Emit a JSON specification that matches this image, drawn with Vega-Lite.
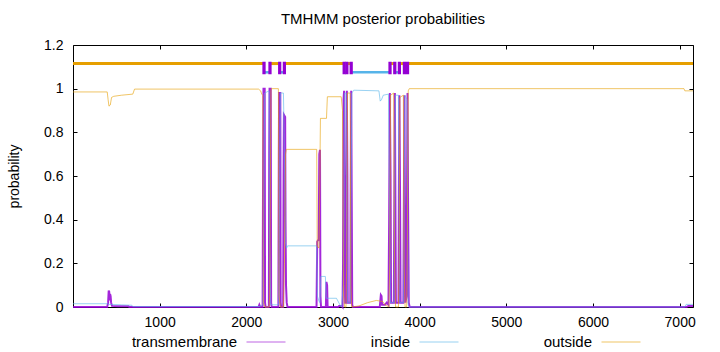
{
  "$schema": "https://vega.github.io/schema/vega-lite/v6.json",
  "width": 620,
  "height": 262,
  "autosize": {"type": "none"},
  "padding": {"left": 73, "top": 45, "right": 27, "bottom": 45},
  "background": "white",
  "title": {"text": "TMHMM posterior probabilities", "font": "Liberation Sans", "fontSize": 15, "fontWeight": "normal", "color": "black", "anchor": "middle", "offset": 11},
  "config": {
    "view": {"stroke": "black", "strokeWidth": 1},
    "axis": {"grid": false, "domain": false, "labelFont": "Liberation Sans", "labelFontSize": 14, "labelColor": "black", "tickColor": "black", "tickSize": -4, "tickWidth": 1, "titleFont": "Liberation Sans", "titleFontSize": 14, "titleFontWeight": "normal", "titleColor": "black"}
  },
  "datasets": {
    "posterior": [
      {"series": "transmembrane", "position": 0, "probability": 0},
      {"series": "transmembrane", "position": 395, "probability": 0},
      {"series": "transmembrane", "position": 405, "probability": 0.02},
      {"series": "transmembrane", "position": 412, "probability": 0.075},
      {"series": "transmembrane", "position": 418, "probability": 0.07},
      {"series": "transmembrane", "position": 422, "probability": 0.03},
      {"series": "transmembrane", "position": 428, "probability": 0.06},
      {"series": "transmembrane", "position": 434, "probability": 0.05},
      {"series": "transmembrane", "position": 440, "probability": 0.02},
      {"series": "transmembrane", "position": 450, "probability": 0.005},
      {"series": "transmembrane", "position": 520, "probability": 0.003},
      {"series": "transmembrane", "position": 640, "probability": 0.003},
      {"series": "transmembrane", "position": 650, "probability": 0},
      {"series": "transmembrane", "position": 2140, "probability": 0},
      {"series": "transmembrane", "position": 2150, "probability": 0.01},
      {"series": "transmembrane", "position": 2160, "probability": 0},
      {"series": "transmembrane", "position": 2188, "probability": 0},
      {"series": "transmembrane", "position": 2194, "probability": 0.7},
      {"series": "transmembrane", "position": 2198, "probability": 1},
      {"series": "transmembrane", "position": 2212, "probability": 1},
      {"series": "transmembrane", "position": 2216, "probability": 0.02},
      {"series": "transmembrane", "position": 2222, "probability": 0},
      {"series": "transmembrane", "position": 2260, "probability": 0},
      {"series": "transmembrane", "position": 2264, "probability": 0.7},
      {"series": "transmembrane", "position": 2268, "probability": 1},
      {"series": "transmembrane", "position": 2282, "probability": 1},
      {"series": "transmembrane", "position": 2286, "probability": 0.02},
      {"series": "transmembrane", "position": 2292, "probability": 0},
      {"series": "transmembrane", "position": 2370, "probability": 0},
      {"series": "transmembrane", "position": 2375, "probability": 0.7},
      {"series": "transmembrane", "position": 2378, "probability": 0.98},
      {"series": "transmembrane", "position": 2392, "probability": 0.98},
      {"series": "transmembrane", "position": 2396, "probability": 0.02},
      {"series": "transmembrane", "position": 2402, "probability": 0},
      {"series": "transmembrane", "position": 2425, "probability": 0},
      {"series": "transmembrane", "position": 2430, "probability": 0.6},
      {"series": "transmembrane", "position": 2434, "probability": 0.88},
      {"series": "transmembrane", "position": 2448, "probability": 0.87},
      {"series": "transmembrane", "position": 2452, "probability": 0.4},
      {"series": "transmembrane", "position": 2458, "probability": 0.1},
      {"series": "transmembrane", "position": 2466, "probability": 0.02},
      {"series": "transmembrane", "position": 2475, "probability": 0},
      {"series": "transmembrane", "position": 2810, "probability": 0},
      {"series": "transmembrane", "position": 2818, "probability": 0.3},
      {"series": "transmembrane", "position": 2835, "probability": 0.31},
      {"series": "transmembrane", "position": 2842, "probability": 0.7},
      {"series": "transmembrane", "position": 2850, "probability": 0.72},
      {"series": "transmembrane", "position": 2855, "probability": 0.05},
      {"series": "transmembrane", "position": 2862, "probability": 0},
      {"series": "transmembrane", "position": 2918, "probability": 0},
      {"series": "transmembrane", "position": 2924, "probability": 0.115},
      {"series": "transmembrane", "position": 2932, "probability": 0.1},
      {"series": "transmembrane", "position": 2938, "probability": 0},
      {"series": "transmembrane", "position": 3060, "probability": 0},
      {"series": "transmembrane", "position": 3070, "probability": 0.005},
      {"series": "transmembrane", "position": 3100, "probability": 0.005},
      {"series": "transmembrane", "position": 3110, "probability": 0},
      {"series": "transmembrane", "position": 3116, "probability": 0.2},
      {"series": "transmembrane", "position": 3122, "probability": 0.95},
      {"series": "transmembrane", "position": 3128, "probability": 0.99},
      {"series": "transmembrane", "position": 3134, "probability": 0.5},
      {"series": "transmembrane", "position": 3140, "probability": 0.02},
      {"series": "transmembrane", "position": 3150, "probability": 0.02},
      {"series": "transmembrane", "position": 3155, "probability": 0.5},
      {"series": "transmembrane", "position": 3160, "probability": 0.99},
      {"series": "transmembrane", "position": 3166, "probability": 0.6},
      {"series": "transmembrane", "position": 3170, "probability": 0.02},
      {"series": "transmembrane", "position": 3200, "probability": 0.02},
      {"series": "transmembrane", "position": 3204, "probability": 0.5},
      {"series": "transmembrane", "position": 3210, "probability": 0.99},
      {"series": "transmembrane", "position": 3216, "probability": 0.5},
      {"series": "transmembrane", "position": 3222, "probability": 0.01},
      {"series": "transmembrane", "position": 3230, "probability": 0},
      {"series": "transmembrane", "position": 3540, "probability": 0},
      {"series": "transmembrane", "position": 3552, "probability": 0.055},
      {"series": "transmembrane", "position": 3560, "probability": 0.05},
      {"series": "transmembrane", "position": 3566, "probability": 0.01},
      {"series": "transmembrane", "position": 3600, "probability": 0.01},
      {"series": "transmembrane", "position": 3620, "probability": 0.02},
      {"series": "transmembrane", "position": 3640, "probability": 0.01},
      {"series": "transmembrane", "position": 3648, "probability": 0.4},
      {"series": "transmembrane", "position": 3656, "probability": 0.98},
      {"series": "transmembrane", "position": 3664, "probability": 0.6},
      {"series": "transmembrane", "position": 3670, "probability": 0.02},
      {"series": "transmembrane", "position": 3702, "probability": 0.02},
      {"series": "transmembrane", "position": 3708, "probability": 0.5},
      {"series": "transmembrane", "position": 3714, "probability": 0.98},
      {"series": "transmembrane", "position": 3720, "probability": 0.5},
      {"series": "transmembrane", "position": 3726, "probability": 0.02},
      {"series": "transmembrane", "position": 3756, "probability": 0.02},
      {"series": "transmembrane", "position": 3760, "probability": 0.5},
      {"series": "transmembrane", "position": 3766, "probability": 0.97},
      {"series": "transmembrane", "position": 3774, "probability": 0.5},
      {"series": "transmembrane", "position": 3780, "probability": 0.02},
      {"series": "transmembrane", "position": 3812, "probability": 0.02},
      {"series": "transmembrane", "position": 3818, "probability": 0.5},
      {"series": "transmembrane", "position": 3824, "probability": 0.97},
      {"series": "transmembrane", "position": 3830, "probability": 0.5},
      {"series": "transmembrane", "position": 3836, "probability": 0.02},
      {"series": "transmembrane", "position": 3850, "probability": 0.05},
      {"series": "transmembrane", "position": 3855, "probability": 0.6},
      {"series": "transmembrane", "position": 3860, "probability": 0.98},
      {"series": "transmembrane", "position": 3866, "probability": 0.5},
      {"series": "transmembrane", "position": 3874, "probability": 0.02},
      {"series": "transmembrane", "position": 3885, "probability": 0},
      {"series": "transmembrane", "position": 7080, "probability": 0},
      {"series": "transmembrane", "position": 7100, "probability": 0.005},
      {"series": "transmembrane", "position": 7154, "probability": 0.005},

      {"series": "inside", "position": 0, "probability": 0.015},
      {"series": "inside", "position": 405, "probability": 0.015},
      {"series": "inside", "position": 410, "probability": 0.012},
      {"series": "inside", "position": 560, "probability": 0.01},
      {"series": "inside", "position": 680, "probability": 0.008},
      {"series": "inside", "position": 690, "probability": 0.002},
      {"series": "inside", "position": 2150, "probability": 0.002},
      {"series": "inside", "position": 2190, "probability": 0.01},
      {"series": "inside", "position": 2198, "probability": 0.3},
      {"series": "inside", "position": 2212, "probability": 0.98},
      {"series": "inside", "position": 2262, "probability": 0.99},
      {"series": "inside", "position": 2268, "probability": 0.3},
      {"series": "inside", "position": 2282, "probability": 0.01},
      {"series": "inside", "position": 2373, "probability": 0.01},
      {"series": "inside", "position": 2380, "probability": 0.3},
      {"series": "inside", "position": 2393, "probability": 0.98},
      {"series": "inside", "position": 2428, "probability": 0.98},
      {"series": "inside", "position": 2436, "probability": 0.8},
      {"series": "inside", "position": 2450, "probability": 0.3},
      {"series": "inside", "position": 2465, "probability": 0.27},
      {"series": "inside", "position": 2475, "probability": 0.28},
      {"series": "inside", "position": 2812, "probability": 0.28},
      {"series": "inside", "position": 2820, "probability": 0.05},
      {"series": "inside", "position": 2835, "probability": 0.03},
      {"series": "inside", "position": 2848, "probability": 0.02},
      {"series": "inside", "position": 2860, "probability": 0.14},
      {"series": "inside", "position": 2912, "probability": 0.14},
      {"series": "inside", "position": 2922, "probability": 0.04},
      {"series": "inside", "position": 3040, "probability": 0.04},
      {"series": "inside", "position": 3080, "probability": 0.01},
      {"series": "inside", "position": 3100, "probability": 0},
      {"series": "inside", "position": 3118, "probability": 0.1},
      {"series": "inside", "position": 3128, "probability": 0.5},
      {"series": "inside", "position": 3134, "probability": 0.98},
      {"series": "inside", "position": 3150, "probability": 0.98},
      {"series": "inside", "position": 3158, "probability": 0.4},
      {"series": "inside", "position": 3166, "probability": 0.02},
      {"series": "inside", "position": 3200, "probability": 0.02},
      {"series": "inside", "position": 3208, "probability": 0.5},
      {"series": "inside", "position": 3218, "probability": 0.98},
      {"series": "inside", "position": 3240, "probability": 0.993},
      {"series": "inside", "position": 3530, "probability": 0.99},
      {"series": "inside", "position": 3545, "probability": 0.943},
      {"series": "inside", "position": 3560, "probability": 0.95},
      {"series": "inside", "position": 3580, "probability": 0.97},
      {"series": "inside", "position": 3640, "probability": 0.975},
      {"series": "inside", "position": 3650, "probability": 0.6},
      {"series": "inside", "position": 3662, "probability": 0.02},
      {"series": "inside", "position": 3705, "probability": 0.02},
      {"series": "inside", "position": 3712, "probability": 0.5},
      {"series": "inside", "position": 3720, "probability": 0.97},
      {"series": "inside", "position": 3755, "probability": 0.97},
      {"series": "inside", "position": 3765, "probability": 0.4},
      {"series": "inside", "position": 3772, "probability": 0.02},
      {"series": "inside", "position": 3815, "probability": 0.02},
      {"series": "inside", "position": 3822, "probability": 0.5},
      {"series": "inside", "position": 3830, "probability": 0.97},
      {"series": "inside", "position": 3852, "probability": 0.95},
      {"series": "inside", "position": 3860, "probability": 0.4},
      {"series": "inside", "position": 3868, "probability": 0.01},
      {"series": "inside", "position": 3880, "probability": 0},
      {"series": "inside", "position": 7060, "probability": 0},
      {"series": "inside", "position": 7075, "probability": 0.012},
      {"series": "inside", "position": 7154, "probability": 0.012},

      {"series": "outside", "position": 0, "probability": 0.985},
      {"series": "outside", "position": 395, "probability": 0.985},
      {"series": "outside", "position": 405, "probability": 0.95},
      {"series": "outside", "position": 415, "probability": 0.92},
      {"series": "outside", "position": 430, "probability": 0.925},
      {"series": "outside", "position": 445, "probability": 0.96},
      {"series": "outside", "position": 470, "probability": 0.965},
      {"series": "outside", "position": 560, "probability": 0.97},
      {"series": "outside", "position": 690, "probability": 0.975},
      {"series": "outside", "position": 710, "probability": 0.998},
      {"series": "outside", "position": 2140, "probability": 0.998},
      {"series": "outside", "position": 2165, "probability": 0.99},
      {"series": "outside", "position": 2178, "probability": 0.975},
      {"series": "outside", "position": 2190, "probability": 0.97},
      {"series": "outside", "position": 2196, "probability": 0.02},
      {"series": "outside", "position": 2212, "probability": 0},
      {"series": "outside", "position": 2262, "probability": 0},
      {"series": "outside", "position": 2270, "probability": 0.05},
      {"series": "outside", "position": 2284, "probability": 0.99},
      {"series": "outside", "position": 2290, "probability": 1},
      {"series": "outside", "position": 2370, "probability": 1},
      {"series": "outside", "position": 2377, "probability": 0.05},
      {"series": "outside", "position": 2392, "probability": 0},
      {"series": "outside", "position": 2428, "probability": 0},
      {"series": "outside", "position": 2440, "probability": 0.2},
      {"series": "outside", "position": 2452, "probability": 0.7},
      {"series": "outside", "position": 2462, "probability": 0.722},
      {"series": "outside", "position": 2812, "probability": 0.722},
      {"series": "outside", "position": 2818, "probability": 0.28},
      {"series": "outside", "position": 2838, "probability": 0.27},
      {"series": "outside", "position": 2846, "probability": 0.5},
      {"series": "outside", "position": 2855, "probability": 0.864},
      {"series": "outside", "position": 2925, "probability": 0.864},
      {"series": "outside", "position": 2935, "probability": 0.963},
      {"series": "outside", "position": 3095, "probability": 0.963},
      {"series": "outside", "position": 3110, "probability": 0.9},
      {"series": "outside", "position": 3122, "probability": 0.05},
      {"series": "outside", "position": 3135, "probability": 0},
      {"series": "outside", "position": 3150, "probability": 0},
      {"series": "outside", "position": 3158, "probability": 0.2},
      {"series": "outside", "position": 3168, "probability": 0.98},
      {"series": "outside", "position": 3198, "probability": 0.98},
      {"series": "outside", "position": 3206, "probability": 0.1},
      {"series": "outside", "position": 3215, "probability": 0},
      {"series": "outside", "position": 3300, "probability": 0.005},
      {"series": "outside", "position": 3400, "probability": 0.02},
      {"series": "outside", "position": 3500, "probability": 0.03},
      {"series": "outside", "position": 3575, "probability": 0.025},
      {"series": "outside", "position": 3600, "probability": 0.01},
      {"series": "outside", "position": 3645, "probability": 0},
      {"series": "outside", "position": 3655, "probability": 0.2},
      {"series": "outside", "position": 3665, "probability": 0.97},
      {"series": "outside", "position": 3700, "probability": 0.98},
      {"series": "outside", "position": 3710, "probability": 0.2},
      {"series": "outside", "position": 3722, "probability": 0},
      {"series": "outside", "position": 3755, "probability": 0},
      {"series": "outside", "position": 3763, "probability": 0.2},
      {"series": "outside", "position": 3772, "probability": 0.96},
      {"series": "outside", "position": 3812, "probability": 0.97},
      {"series": "outside", "position": 3820, "probability": 0.2},
      {"series": "outside", "position": 3832, "probability": 0},
      {"series": "outside", "position": 3850, "probability": 0},
      {"series": "outside", "position": 3858, "probability": 0.3},
      {"series": "outside", "position": 3868, "probability": 0.99},
      {"series": "outside", "position": 3880, "probability": 1},
      {"series": "outside", "position": 7050, "probability": 1},
      {"series": "outside", "position": 7060, "probability": 0.99},
      {"series": "outside", "position": 7154, "probability": 0.99}
    ],
    "topology": [
      {"state": "outside", "start": 0, "end": 2194},
      {"state": "TM", "start": 2194, "end": 2214},
      {"state": "inside", "start": 2214, "end": 2263},
      {"state": "TM", "start": 2263, "end": 2283},
      {"state": "outside", "start": 2283, "end": 2375},
      {"state": "TM", "start": 2375, "end": 2395},
      {"state": "inside", "start": 2395, "end": 2429},
      {"state": "TM", "start": 2429, "end": 2449},
      {"state": "outside", "start": 2449, "end": 3119},
      {"state": "TM", "start": 3119, "end": 3139},
      {"state": "inside", "start": 3139, "end": 3150},
      {"state": "TM", "start": 3150, "end": 3170},
      {"state": "outside", "start": 3170, "end": 3200},
      {"state": "TM", "start": 3200, "end": 3220},
      {"state": "inside", "start": 3220, "end": 3648},
      {"state": "TM", "start": 3648, "end": 3668},
      {"state": "outside", "start": 3668, "end": 3703},
      {"state": "TM", "start": 3703, "end": 3723},
      {"state": "inside", "start": 3723, "end": 3756},
      {"state": "TM", "start": 3756, "end": 3776},
      {"state": "outside", "start": 3776, "end": 3814},
      {"state": "TM", "start": 3814, "end": 3834},
      {"state": "inside", "start": 3834, "end": 3850},
      {"state": "TM", "start": 3850, "end": 3870},
      {"state": "outside", "start": 3870, "end": 7154}
    ]
  },
  "layer": [
    {
      "data": {"name": "posterior"},
      "transform": [{"filter": "datum.series === 'transmembrane'"}],
      "mark": {"type": "line", "strokeWidth": 2, "opacity": 0.85},
      "encoding": {
        "x": {"field": "position", "type": "quantitative", "scale": {"domain": [0, 7154], "nice": false, "zero": false},
              "axis": {"orient": "bottom", "values": [1000, 2000, 3000, 4000, 5000, 6000, 7000], "format": "d", "labelPadding": 12, "title": null}},
        "y": {"field": "probability", "type": "quantitative", "scale": {"domain": [0, 1.2], "nice": false},
              "axis": {"orient": "left", "values": [0, 0.2, 0.4, 0.6, 0.8, 1, 1.2], "format": "~g", "labelPadding": 14, "title": "probability", "titlePadding": 22}},
        "color": {"field": "series", "type": "nominal",
                  "scale": {"domain": ["transmembrane", "inside", "outside"], "range": ["#9400D3", "#56B4E9", "#E69F00"]},
                  "legend": {"orient": "none", "legendX": 173, "legendY": 277, "direction": "horizontal", "title": null,
                             "symbolType": "stroke", "symbolSize": 1521, "symbolStrokeWidth": 1, "symbolOpacity": 0.6,
                             "labelFont": "Liberation Sans", "labelFontSize": 15, "labelColor": "black", "labelAlign": "right",
                             "labelOffset": -49, "columnPadding": 82, "labelLimit": 300}}
      }
    },
    {
      "data": {"name": "posterior"},
      "transform": [{"filter": "datum.series === 'inside'"}],
      "mark": {"type": "line", "strokeWidth": 1, "opacity": 0.6},
      "encoding": {
        "x": {"field": "position", "type": "quantitative", "axis": {"orient": "top", "labels": false, "values": [1000, 2000, 3000, 4000, 5000, 6000, 7000], "title": null}},
        "y": {"field": "probability", "type": "quantitative", "axis": {"orient": "right", "labels": false, "values": [0, 0.2, 0.4, 0.6, 0.8, 1, 1.2], "title": null}},
        "color": {"field": "series", "type": "nominal", "scale": {"domain": ["transmembrane", "inside", "outside"], "range": ["#9400D3", "#56B4E9", "#E69F00"]}}
      }
    },
    {
      "data": {"name": "posterior"},
      "transform": [{"filter": "datum.series === 'outside'"}],
      "mark": {"type": "line", "strokeWidth": 1, "opacity": 0.6},
      "encoding": {
        "x": {"field": "position", "type": "quantitative", "axis": null},
        "y": {"field": "probability", "type": "quantitative", "axis": null},
        "color": {"field": "series", "type": "nominal", "scale": {"domain": ["transmembrane", "inside", "outside"], "range": ["#9400D3", "#56B4E9", "#E69F00"]}}
      }
    },
    {
      "data": {"name": "topology"},
      "transform": [{"filter": "datum.state === 'outside'"}],
      "mark": {"type": "rule", "color": "#E69F00", "strokeWidth": 3},
      "encoding": {
        "x": {"field": "start", "type": "quantitative", "axis": null},
        "x2": {"field": "end"},
        "y": {"datum": 1.115, "type": "quantitative", "axis": null}
      }
    },
    {
      "data": {"name": "topology"},
      "transform": [{"filter": "datum.state === 'inside'"}],
      "mark": {"type": "rule", "color": "#56B4E9", "strokeWidth": 2.5},
      "encoding": {
        "x": {"field": "start", "type": "quantitative", "axis": null},
        "x2": {"field": "end"},
        "y": {"datum": 1.075, "type": "quantitative", "axis": null}
      }
    },
    {
      "data": {"name": "topology"},
      "transform": [{"filter": "datum.state === 'TM'"}],
      "mark": {"type": "rect", "fill": "#9400D3", "stroke": "#9400D3", "strokeWidth": 1.5},
      "encoding": {
        "x": {"field": "start", "type": "quantitative", "axis": null},
        "x2": {"field": "end"},
        "y": {"datum": 1.07, "type": "quantitative", "axis": null},
        "y2": {"datum": 1.12}
      }
    }
  ],
  "resolve": {"axis": {"x": "independent", "y": "independent"}}
}
